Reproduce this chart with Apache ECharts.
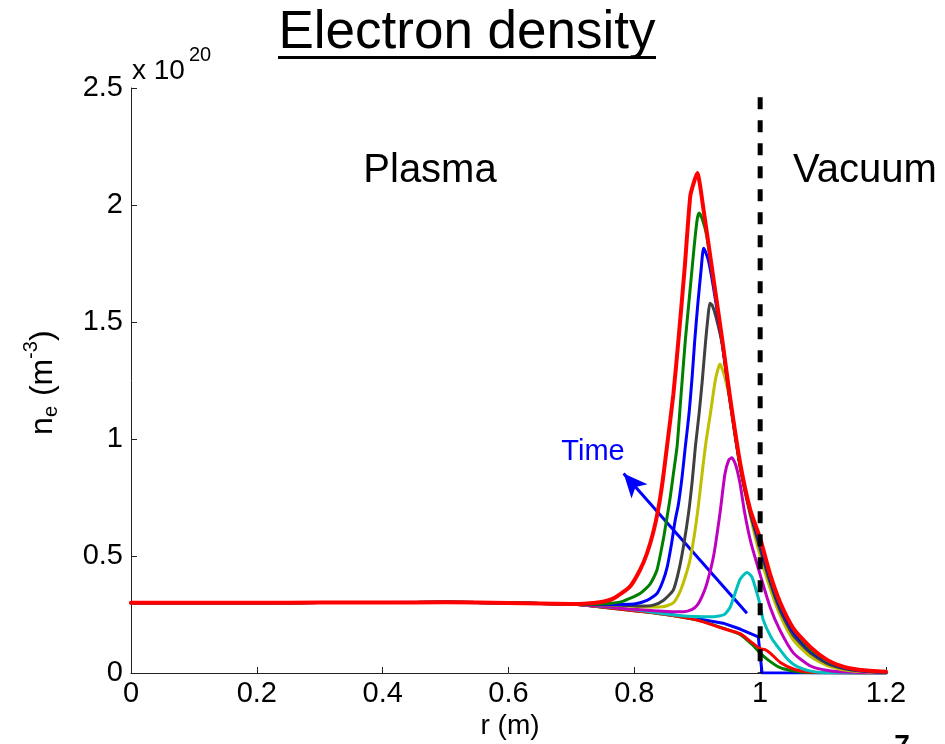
<!DOCTYPE html>
<html>
<head>
<meta charset="utf-8">
<script src="https://cdn.jsdelivr.net/npm/echarts@6/dist/echarts.min.js"></script>
<style>
html,body{margin:0;padding:0;background:#fff;}
#chart{width:945px;height:744px;}
</style>
</head>
<body>
<div id="chart"></div>
<script>
// ---------- DATA (r in m, n_e in units of 1e20 m^-3) ----------
const xTicks = [0, 0.2, 0.4, 0.6, 0.8, 1, 1.2];
const yTicks = [0, 0.5, 1, 1.5, 2, 2.5];

const baseline = [[0,0.300],[0.1,0.300],[0.2,0.300],[0.3,0.301],[0.4,0.301],[0.5,0.302],[0.6,0.299],[0.65,0.297],[0.7,0.295]];

// curves in time order (MATLAB colour cycle b,g,r,c,m,y,k,b,g,r)
const t1Blue = [[0.75,0.283],[0.8,0.268],[0.85,0.253],[0.9,0.232],[0.941,0.213],[0.968,0.188],[0.997,0.154],[1.003,0],[1.2,0]];
const t2Green = [[0.75,0.281],[0.8,0.266],[0.85,0.250],[0.9,0.226],[0.941,0.192],[0.968,0.165],[0.987,0.122],[1.0,0.085],[1.013,0.055],[1.03,0.025],[1.05,0.01],[1.075,0.002],[1.2,0]];
const t3Red = [[0.75,0.281],[0.8,0.266],[0.85,0.250],[0.9,0.226],[0.941,0.190],[0.968,0.168],[0.987,0.130],[1.0,0.104],[1.008,0.100],[1.016,0.085],[1.032,0.045],[1.055,0.015],[1.08,0.004],[1.12,0.001],[1.2,0]];
const t4Cyan = [[0.75,0.284],[0.8,0.270],[0.873,0.245],[0.926,0.240],[0.943,0.250],[0.952,0.280],[0.96,0.340],[0.968,0.400],[0.979,0.430],[0.987,0.410],[0.995,0.340],[1.0,0.290],[1.005,0.226],[1.018,0.150],[1.032,0.098],[1.045,0.055],[1.059,0.027],[1.08,0.008],[1.1,0.002],[1.2,0]];
const t5Magenta = [[0.75,0.285],[0.8,0.272],[0.86,0.262],[0.878,0.262],[0.892,0.272],[0.9,0.290],[0.908,0.330],[0.915,0.380],[0.926,0.500],[0.936,0.680],[0.944,0.850],[0.950,0.910],[0.955,0.920],[0.961,0.890],[0.968,0.810],[0.975,0.690],[0.985,0.560],[1.0,0.420],[1.016,0.280],[1.032,0.180],[1.053,0.085],[1.08,0.030],[1.11,0.010],[1.15,0.003],[1.2,0.001]];
const t6Yellow = [[0.72,0.294],[0.78,0.288],[0.82,0.282],[0.845,0.283],[0.862,0.300],[0.873,0.350],[0.882,0.420],[0.889,0.490],[0.896,0.600],[0.902,0.720],[0.908,0.860],[0.914,0.990],[0.921,1.110],[0.928,1.240],[0.932,1.290],[0.936,1.320],[0.941,1.290],[0.947,1.230],[0.952,1.160],[0.968,0.880],[0.984,0.675],[1.0,0.500],[1.016,0.360],[1.032,0.245],[1.053,0.140],[1.08,0.070],[1.107,0.032],[1.132,0.014],[1.16,0.006],[1.2,0.002]];
const t7Gray = [[0.72,0.294],[0.78,0.290],[0.81,0.286],[0.83,0.290],[0.846,0.310],[0.862,0.355],[0.87,0.430],[0.878,0.540],[0.886,0.680],[0.892,0.820],[0.897,0.966],[0.903,1.110],[0.908,1.250],[0.913,1.410],[0.917,1.520],[0.920,1.580],[0.924,1.570],[0.930,1.520],[0.940,1.400],[0.952,1.165],[0.968,0.885],[0.984,0.685],[1.0,0.530],[1.016,0.385],[1.032,0.265],[1.053,0.160],[1.08,0.085],[1.107,0.040],[1.132,0.019],[1.16,0.008],[1.2,0.002]];
const t8Blue = [[0.72,0.294],[0.76,0.293],[0.80,0.295],[0.82,0.310],[0.836,0.340],[0.845,0.390],[0.852,0.450],[0.859,0.550],[0.865,0.654],[0.870,0.720],[0.876,0.840],[0.881,0.966],[0.887,1.110],[0.892,1.270],[0.896,1.420],[0.901,1.580],[0.906,1.720],[0.910,1.815],[0.913,1.800],[0.918,1.760],[0.925,1.660],[0.940,1.405],[0.952,1.170],[0.968,0.890],[0.984,0.690],[1.0,0.550],[1.016,0.400],[1.032,0.280],[1.053,0.175],[1.08,0.095],[1.107,0.047],[1.132,0.023],[1.16,0.010],[1.2,0.003]];
const t9Green = [[0.72,0.294],[0.75,0.295],[0.78,0.305],[0.809,0.340],[0.825,0.380],[0.836,0.440],[0.846,0.570],[0.851,0.650],[0.857,0.750],[0.862,0.850],[0.868,0.970],[0.874,1.180],[0.881,1.420],[0.888,1.620],[0.895,1.820],[0.900,1.940],[0.903,1.966],[0.908,1.940],[0.915,1.870],[0.925,1.690],[0.940,1.410],[0.952,1.175],[0.968,0.895],[0.984,0.695],[1.0,0.565],[1.016,0.410],[1.032,0.290],[1.053,0.185],[1.08,0.100],[1.107,0.050],[1.132,0.025],[1.16,0.012],[1.2,0.004]];
const t10Red = [[0.72,0.296],[0.745,0.302],[0.767,0.319],[0.793,0.369],[0.809,0.440],[0.82,0.510],[0.83,0.600],[0.838,0.700],[0.845,0.820],[0.852,0.970],[0.862,1.190],[0.870,1.420],[0.880,1.730],[0.889,2.040],[0.895,2.100],[0.900,2.137],[0.910,1.980],[0.925,1.700],[0.940,1.420],[0.952,1.180],[0.968,0.900],[0.984,0.700],[1.0,0.575],[1.016,0.420],[1.032,0.300],[1.053,0.190],[1.08,0.110],[1.107,0.055],[1.132,0.027],[1.16,0.013],[1.2,0.005]];

const vacuumBoundary = [[1.0,2.46],[1.0,0]];
const timeArrow = [[0.979,0.255],[0.783,0.853]];

// ---------- BUILD ----------
const FONT = 'Liberation Sans, Arial, Helvetica, sans-serif';
const curves = [
  {d:t1Blue, c:'#0000ff', s:false}, {d:t2Green, c:'#008000', s:0.2}, {d:t3Red, c:'#ff0000', s:0.2},
  {d:t4Cyan, c:'#00bfbf', s:0.2}, {d:t5Magenta, c:'#bf00bf', s:0.2}, {d:t6Yellow, c:'#bfbf00', s:0.2},
  {d:t7Gray, c:'#404040', s:0.2}, {d:t8Blue, c:'#0000ff', s:0.2}, {d:t9Green, c:'#008000', s:0.2},
  {d:t10Red, c:'#ff0000', s:0.2}
];
const series = curves.map((s, i) => ({
  type: 'line',
  data: baseline.concat(s.d),
  showSymbol: false,
  symbol: 'none',
  smooth: s.s,
  lineStyle: {color: s.c, width: i === curves.length - 1 ? 4 : 3, cap: 'round', join: 'round'},
  z: 2 + i,
  silent: true
}));
series.push({
  type: 'line',
  data: [],
  symbol: 'none',
  silent: true,
  z: 20,
  markLine: {
    silent: true,
    symbol: ['none', 'arrow'],
    symbolSize: [16, 24],
    label: {show: false},
    lineStyle: {color: '#0000ff', width: 3, type: 'solid'},
    data: [[{coord: timeArrow[0]}, {coord: timeArrow[1]}]],
    animation: false
  }
});
series.push({
  type: 'line',
  data: vacuumBoundary,
  symbol: 'none',
  silent: true,
  z: 30,
  lineStyle: {color: '#000', width: 5, type: [12, 11]}
});

const option = {
  animation: false,
  backgroundColor: '#fff',
  grid: {left: 131, right: 59, top: 88, bottom: 71, containLabel: false},
  xAxis: {
    type: 'value', min: 0, max: 1.2, interval: 0.2,
    axisLine: {show: true, onZero: false, lineStyle: {color: '#222', width: 1}},
    axisTick: {show: true, inside: true, length: 6, lineStyle: {color: '#222'}},
    splitLine: {show: false},
    axisLabel: {color: '#000', fontFamily: FONT, fontSize: 29, margin: 6,
      formatter: v => String(xTicks.find(t => Math.abs(t - v) < 1e-9) ?? v)}
  },
  yAxis: {
    type: 'value', min: 0, max: 2.5, interval: 0.5,
    axisLine: {show: true, onZero: false, lineStyle: {color: '#222', width: 1}},
    axisTick: {show: true, inside: true, length: 6, lineStyle: {color: '#222'}},
    splitLine: {show: false},
    axisLabel: {color: '#000', fontFamily: FONT, fontSize: 29, margin: 8,
      formatter: v => String(yTicks.find(t => Math.abs(t - v) < 1e-9) ?? v)}
  },
  series: series,
  graphic: [
    {type: 'text', x: 467, y: 33, style: {text: 'Electron density', font: '53px ' + FONT, fill: '#000', align: 'center', verticalAlign: 'middle'}},
    {type: 'rect', shape: {x: 278, y: 56, width: 378, height: 3}, style: {fill: '#000'}},
    {type: 'text', x: 430, y: 171, style: {text: 'Plasma', font: '40px ' + FONT, fill: '#000', align: 'center', verticalAlign: 'middle'}},
    {type: 'text', x: 865, y: 171, style: {text: 'Vacuum', font: '40px ' + FONT, fill: '#000', align: 'center', verticalAlign: 'middle'}},
    {type: 'text', x: 593, y: 452, style: {text: 'Time', font: '29px ' + FONT, fill: '#0000ff', align: 'center', verticalAlign: 'middle'}},
    {type: 'text', x: 132, y: 71, style: {text: 'x 10', font: '28px ' + FONT, fill: '#000', align: 'left', verticalAlign: 'middle'}},
    {type: 'text', x: 189, y: 55, style: {text: '20', font: '20px ' + FONT, fill: '#000', align: 'left', verticalAlign: 'middle'}},
    {type: 'text', x: 510, y: 726, style: {text: 'r (m)', font: '28px ' + FONT, fill: '#000', align: 'center', verticalAlign: 'middle'}},
    {type: 'text', x: 902, y: 732, style: {text: '7', font: 'bold 28px ' + FONT, fill: '#000', align: 'center', verticalAlign: 'top'}},
    {
      type: 'group', x: 43, y: 435, rotation: Math.PI / 2,
      children: [
        {type: 'text', x: 0, y: 0, style: {text: 'n', font: '32px ' + FONT, fill: '#000', align: 'left', verticalAlign: 'middle'}},
        {type: 'text', x: 18, y: 8, style: {text: 'e', font: '20px ' + FONT, fill: '#000', align: 'left', verticalAlign: 'middle'}},
        {type: 'text', x: 30, y: 0, style: {text: ' (m', font: '32px ' + FONT, fill: '#000', align: 'left', verticalAlign: 'middle'}},
        {type: 'text', x: 76, y: -12, style: {text: '-3', font: '20px ' + FONT, fill: '#000', align: 'left', verticalAlign: 'middle'}},
        {type: 'text', x: 94, y: 0, style: {text: ')', font: '32px ' + FONT, fill: '#000', align: 'left', verticalAlign: 'middle'}}
      ]
    }
  ]
};
const chart = echarts.init(document.getElementById('chart'), null, {renderer: 'canvas'});
chart.setOption(option);
</script>
</body>
</html>
